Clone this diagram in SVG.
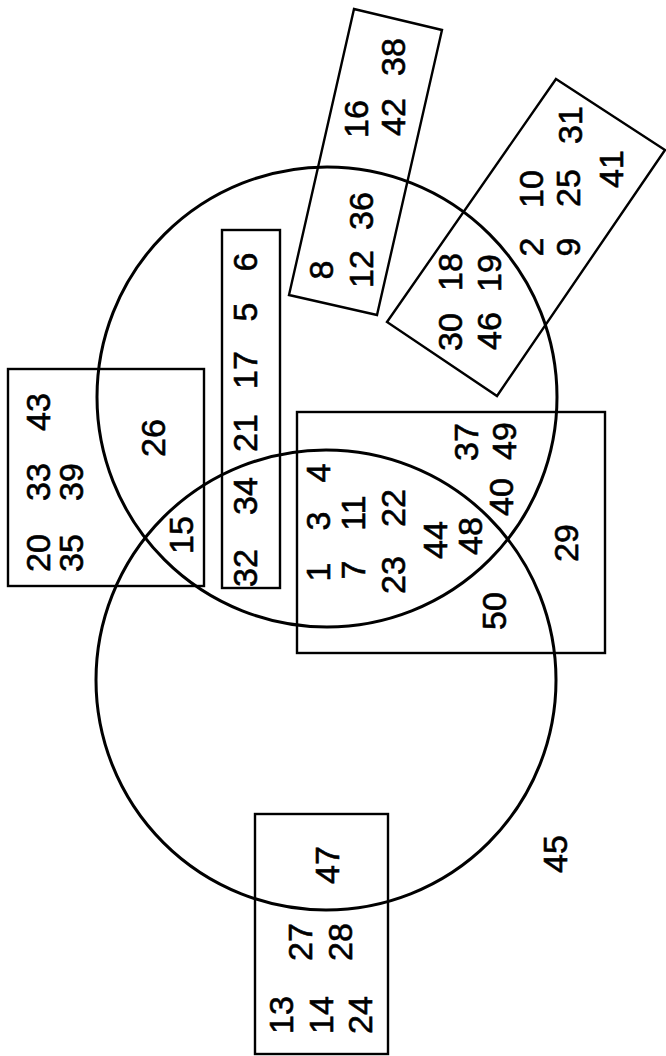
<svg xmlns="http://www.w3.org/2000/svg" width="666" height="1056" viewBox="0 0 666 1056">
<style>
.c{fill:none;stroke:#000;stroke-width:3}
.r{fill:none;stroke:#000;stroke-width:2.4}
text{font-family:"Liberation Sans",Arial,sans-serif;font-size:34px;fill:#000;stroke:#000;stroke-width:0.6;text-anchor:middle}
</style>
<rect width="666" height="1056" fill="#fff"/>
<g id="sets">
<circle id="circleUpper" class="c" cx="327" cy="397" r="230"/>
<circle id="circleLower" class="c" cx="326" cy="680" r="230"/>
<rect id="boxLeft" class="r" x="8" y="369" width="196" height="217"/>
<rect id="boxNarrow" class="r" x="222" y="230" width="58" height="358"/>
<rect id="boxCenter" class="r" x="297" y="412" width="308" height="241"/>
<rect id="boxBottom" class="r" x="255" y="814" width="133" height="240"/>
<polygon id="boxTiltA" class="r" points="354,9 442,30 377,315 289,295"/>
<polygon id="boxTiltB" class="r" points="556,79 665,150 497,396 387,322"/>
</g>
<g id="labels">
<text transform="translate(50,553) rotate(-90)">20</text>
<text transform="translate(83,553) rotate(-90)">35</text>
<text transform="translate(50,482) rotate(-90)">33</text>
<text transform="translate(83,482) rotate(-90)">39</text>
<text transform="translate(50,412) rotate(-90)">43</text>
<text transform="translate(165,438) rotate(-90)">26</text>
<text transform="translate(193,535) rotate(-90)">15</text>
<text transform="translate(257,568) rotate(-90)">32</text>
<text transform="translate(257,496) rotate(-90)">34</text>
<text transform="translate(257,433) rotate(-90)">21</text>
<text transform="translate(257,370) rotate(-90)">17</text>
<text transform="translate(257,312) rotate(-90)">5</text>
<text transform="translate(257,262) rotate(-90)">6</text>
<text transform="translate(333,270) rotate(-90)">8</text>
<text transform="translate(373,269) rotate(-90)">12</text>
<text transform="translate(373,211) rotate(-90)">36</text>
<text transform="translate(368,119) rotate(-90)">16</text>
<text transform="translate(405,117) rotate(-90)">42</text>
<text transform="translate(405,57) rotate(-90)">38</text>
<text transform="translate(462,332) rotate(-90)">30</text>
<text transform="translate(462,272) rotate(-90)">18</text>
<text transform="translate(501,331) rotate(-90)">46</text>
<text transform="translate(501,273) rotate(-90)">19</text>
<text transform="translate(543,247) rotate(-90)">2</text>
<text transform="translate(543,189) rotate(-90)">10</text>
<text transform="translate(580,247) rotate(-90)">9</text>
<text transform="translate(580,188) rotate(-90)">25</text>
<text transform="translate(582,125) rotate(-90)">31</text>
<text transform="translate(623,169) rotate(-90)">41</text>
<text transform="translate(330,572) rotate(-90)">1</text>
<text transform="translate(330,521) rotate(-90)">3</text>
<text transform="translate(330,473) rotate(-90)">4</text>
<text transform="translate(365,570) rotate(-90)">7</text>
<text transform="translate(365,513) rotate(-90)">11</text>
<text transform="translate(405,575) rotate(-90)">23</text>
<text transform="translate(405,508) rotate(-90)">22</text>
<text transform="translate(447,540) rotate(-90)">44</text>
<text transform="translate(482,536) rotate(-90)">48</text>
<text transform="translate(513,497) rotate(-90)">40</text>
<text transform="translate(478,442) rotate(-90)">37</text>
<text transform="translate(516,441) rotate(-90)">49</text>
<text transform="translate(578,543) rotate(-90)">29</text>
<text transform="translate(506,611) rotate(-90)">50</text>
<text transform="translate(339,865) rotate(-90)">47</text>
<text transform="translate(312,942) rotate(-90)">27</text>
<text transform="translate(352,942) rotate(-90)">28</text>
<text transform="translate(293,1015) rotate(-90)">13</text>
<text transform="translate(333,1015) rotate(-90)">14</text>
<text transform="translate(372,1015) rotate(-90)">24</text>
<text transform="translate(567,854) rotate(-90)">45</text>
</g>
</svg>
